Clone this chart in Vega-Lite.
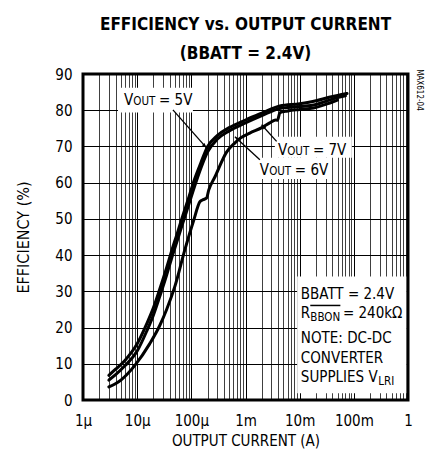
{
  "$schema": "https://vega.github.io/schema/vega-lite/v6.json",
  "width": 325,
  "height": 326,
  "autosize": {"type": "none"},
  "padding": {"left": 83, "top": 74, "right": 18, "bottom": 58},
  "background": "white",
  "title": {
    "text": ["EFFICIENCY vs. OUTPUT CURRENT", "(BBATT = 2.4V)"],
    "fontSize": 17,
    "fontWeight": "bold",
    "font": "DejaVu Sans Condensed",
    "lineHeight": 29,
    "anchor": "middle",
    "offset": 4,
    "color": "black"
  },
  "config": {
    "font": "DejaVu Sans Condensed",
    "view": {"stroke": "black", "strokeWidth": 3},
    "axis": {
      "labelColor": "black",
      "titleColor": "black",
      "titleFontWeight": "normal",
      "labelFontSize": 15,
      "titleFontSize": 15,
      "ticks": false,
      "domain": false,
      "grid": true,
      "gridColor": "black",
      "gridWidth": 1,
      "labelOverlap": false,
      "labelFlush": false,
      "labelBound": false
    }
  },
  "datasets": {
    "curves": [
      {"s": "5V", "x": 3e-6, "y": 6.8}, {"s": "5V", "x": 4e-6, "y": 8.5}, {"s": "5V", "x": 6e-6, "y": 11}, {"s": "5V", "x": 1e-5, "y": 15.5}, {"s": "5V", "x": 1.5e-5, "y": 21}, {"s": "5V", "x": 2e-5, "y": 25.5}, {"s": "5V", "x": 2.6e-5, "y": 30.5}, {"s": "5V", "x": 3.5e-5, "y": 36.5}, {"s": "5V", "x": 4.3e-5, "y": 41}, {"s": "5V", "x": 5.5e-5, "y": 46}, {"s": "5V", "x": 7e-5, "y": 51}, {"s": "5V", "x": 9e-5, "y": 56}, {"s": "5V", "x": 1.15e-4, "y": 61}, {"s": "5V", "x": 1.5e-4, "y": 65.5}, {"s": "5V", "x": 2e-4, "y": 70}, {"s": "5V", "x": 3e-4, "y": 73}, {"s": "5V", "x": 5e-4, "y": 75.2}, {"s": "5V", "x": 1e-3, "y": 77.3}, {"s": "5V", "x": 2e-3, "y": 79.2}, {"s": "5V", "x": 4.3e-3, "y": 81.2}, {"s": "5V", "x": 1e-2, "y": 81.8}, {"s": "5V", "x": 2e-2, "y": 82.6}, {"s": "5V", "x": 3.5e-2, "y": 83.6}, {"s": "5V", "x": 5e-2, "y": 84.1}, {"s": "5V", "x": 7.5e-2, "y": 84.6},
      {"s": "7V", "x": 3e-6, "y": 5.5}, {"s": "7V", "x": 4e-6, "y": 7}, {"s": "7V", "x": 6e-6, "y": 9.5}, {"s": "7V", "x": 1e-5, "y": 13.5}, {"s": "7V", "x": 1.5e-5, "y": 19}, {"s": "7V", "x": 2e-5, "y": 23.5}, {"s": "7V", "x": 2.6e-5, "y": 28.5}, {"s": "7V", "x": 3.5e-5, "y": 34.5}, {"s": "7V", "x": 4.3e-5, "y": 39}, {"s": "7V", "x": 5.5e-5, "y": 44}, {"s": "7V", "x": 7e-5, "y": 49}, {"s": "7V", "x": 9e-5, "y": 54}, {"s": "7V", "x": 1.15e-4, "y": 59}, {"s": "7V", "x": 1.5e-4, "y": 64}, {"s": "7V", "x": 2e-4, "y": 68.5}, {"s": "7V", "x": 3e-4, "y": 72}, {"s": "7V", "x": 5e-4, "y": 74.3}, {"s": "7V", "x": 1e-3, "y": 76.5}, {"s": "7V", "x": 2e-3, "y": 78.5}, {"s": "7V", "x": 4.3e-3, "y": 80.5}, {"s": "7V", "x": 1e-2, "y": 81}, {"s": "7V", "x": 2e-2, "y": 81.6}, {"s": "7V", "x": 3.5e-2, "y": 82.8}, {"s": "7V", "x": 5e-2, "y": 83.5}, {"s": "7V", "x": 7e-2, "y": 84},
      {"s": "6V", "x": 3e-6, "y": 3.6}, {"s": "6V", "x": 5e-6, "y": 5.5}, {"s": "6V", "x": 9e-6, "y": 9.5}, {"s": "6V", "x": 1.7e-5, "y": 15.5}, {"s": "6V", "x": 2.6e-5, "y": 20.5}, {"s": "6V", "x": 3.5e-5, "y": 25}, {"s": "6V", "x": 5e-5, "y": 31.5}, {"s": "6V", "x": 7.6e-5, "y": 41.5}, {"s": "6V", "x": 1.1e-4, "y": 49.5}, {"s": "6V", "x": 1.45e-4, "y": 54.8}, {"s": "6V", "x": 1.65e-4, "y": 55.3}, {"s": "6V", "x": 1.9e-4, "y": 55.7}, {"s": "6V", "x": 2.1e-4, "y": 58}, {"s": "6V", "x": 2.75e-4, "y": 61.7}, {"s": "6V", "x": 4.5e-4, "y": 68.5}, {"s": "6V", "x": 6.4e-4, "y": 71}, {"s": "6V", "x": 8e-4, "y": 72.3}, {"s": "6V", "x": 1.2e-3, "y": 73.7}, {"s": "6V", "x": 2e-3, "y": 75.2}, {"s": "6V", "x": 2.8e-3, "y": 76.5}, {"s": "6V", "x": 3.6e-3, "y": 77.3}, {"s": "6V", "x": 3.9e-3, "y": 77.2}, {"s": "6V", "x": 4.3e-3, "y": 79.3}, {"s": "6V", "x": 6e-3, "y": 79.8}, {"s": "6V", "x": 1e-2, "y": 80.2}, {"s": "6V", "x": 1.8e-2, "y": 80.6}, {"s": "6V", "x": 3.6e-2, "y": 82}, {"s": "6V", "x": 5e-2, "y": 82.8}
    ],
    "boxes": [
      {"b": "5V", "x": 4.43e-6, "x2": 1.07e-4, "y": 79.4, "y2": 86.2},
      {"b": "7V", "x": 3.48e-3, "x2": 0.0918, "y": 66.9, "y2": 72.7},
      {"b": "6V", "x": 1.62e-3, "x2": 0.036, "y": 61.0, "y2": 66.9},
      {"b": "note", "x": 9.0e-3, "x2": 0.93, "y": 1.85, "y2": 34.1}
    ],
    "arrows": [
      {"a": "5V", "x": 4.57e-5, "y": 80.1, "x2": 1.91e-4, "y2": 69.6},
      {"a": "7V", "x": 3.75e-3, "y": 71.4, "x2": 1.98e-3, "y2": 76.0},
      {"a": "6V", "x": 1.84e-3, "y": 66.3, "x2": 6.37e-4, "y2": 72.7}
    ],
    "vlabels": [
      {"x": 5.71e-6, "y": 81.5, "main": "V", "sub": "OUT", "rest": "= 5V"},
      {"x": 3.96e-3, "y": 67.7, "main": "V", "sub": "OUT", "rest": "= 7V"},
      {"x": 1.84e-3, "y": 62.2, "main": "V", "sub": "OUT", "rest": "= 6V"}
    ],
    "notes": [
      {"t": "BBATT = 2.4V", "x": 0.0105, "y": 27.8},
      {"t": "R", "x": 0.0105, "y": 22.6},
      {"t": "= 240kΩ", "x": 0.0628, "y": 22.6},
      {"t": "NOTE: DC-DC", "x": 0.0105, "y": 15.8},
      {"t": "CONVERTER", "x": 0.0105, "y": 10.3},
      {"t": "SUPPLIES V", "x": 0.0105, "y": 5.05}
    ],
    "notesubs": [
      {"t": "BBON", "x": 0.0157, "y": 21.9},
      {"t": "LRI", "x": 0.283, "y": 4.1}
    ],
    "overline": [
      {"x": 0.0157, "x2": 0.0564, "y": 26.1}
    ],
    "code": [
      {"t": "MAX612-04", "x": 1.58, "y": 85.6}
    ]
  },
  "encoding": {
    "x": {
      "field": "x",
      "type": "quantitative",
      "scale": {"type": "log", "domain": [1e-6, 1], "nice": false},
      "axis": {
        "title": "OUTPUT CURRENT (A)",
        "values": [1e-6, 2e-6, 3e-6, 4e-6, 5e-6, 6e-6, 7e-6, 8e-6, 9e-6, 1e-5, 2e-5, 3e-5, 4e-5, 5e-5, 6e-5, 7e-5, 8e-5, 9e-5, 1e-4, 2e-4, 3e-4, 4e-4, 5e-4, 6e-4, 7e-4, 8e-4, 9e-4, 1e-3, 2e-3, 3e-3, 4e-3, 5e-3, 6e-3, 7e-3, 8e-3, 9e-3, 1e-2, 2e-2, 3e-2, 4e-2, 5e-2, 6e-2, 7e-2, 8e-2, 9e-2, 0.1, 0.2, 0.3, 0.4, 0.5, 0.6, 0.7, 0.8, 0.9, 1],
        "labelExpr": "abs(log(datum.value)/LN10 - round(log(datum.value)/LN10)) < 0.01 ? ['1µ','10µ','100µ','1m','10m','100m','1'][round(log(datum.value)/LN10)+6] : ''",
        "labelPadding": 13,
        "titlePadding": 5,
        "gridOpacity": {"condition": {"test": "abs(log(datum.value)/LN10 - round(log(datum.value)/LN10)) < 0.01", "value": 1}, "value": 0.75}
      }
    },
    "y": {
      "field": "y",
      "type": "quantitative",
      "scale": {"domain": [0, 90], "nice": false},
      "axis": {
        "title": "EFFICIENCY (%)",
        "titleFontSize": 16,
        "values": [0, 10, 20, 30, 40, 50, 60, 70, 80, 90],
        "labelPadding": 11,
        "titlePadding": 23
      }
    }
  },
  "layer": [
    {
      "data": {"name": "boxes"},
      "mark": {"type": "rect", "fill": "white", "stroke": null},
      "encoding": {"x2": {"field": "x2"}, "y2": {"field": "y2"}}
    },
    {
      "data": {"name": "curves"},
      "mark": {"type": "line", "color": "black", "interpolate": "monotone", "strokeCap": "round", "strokeJoin": "round"},
      "encoding": {
        "detail": {"field": "s"},
        "strokeWidth": {"field": "s", "type": "nominal", "scale": {"domain": ["5V", "7V", "6V"], "range": [3, 3, 2.5]}, "legend": null}
      }
    },
    {
      "data": {"name": "arrows"},
      "mark": {"type": "rule", "color": "black", "strokeWidth": 1.3},
      "encoding": {"x2": {"field": "x2"}, "y2": {"field": "y2"}}
    },
    {
      "data": {"name": "arrows"},
      "transform": [{"filter": "datum.a == '5V'"}],
      "mark": {"type": "point", "shape": "M0,0L-0.35,1L0.35,1Z", "filled": true, "color": "black", "opacity": 1, "size": 100, "angle": 138},
      "encoding": {"x": {"field": "x2", "type": "quantitative"}, "y": {"field": "y2", "type": "quantitative"}}
    },
    {
      "data": {"name": "arrows"},
      "transform": [{"filter": "datum.a == '7V'"}],
      "mark": {"type": "point", "shape": "M0,0L-0.35,1L0.35,1Z", "filled": true, "color": "black", "opacity": 1, "size": 100, "angle": 318},
      "encoding": {"x": {"field": "x2", "type": "quantitative"}, "y": {"field": "y2", "type": "quantitative"}}
    },
    {
      "data": {"name": "arrows"},
      "transform": [{"filter": "datum.a == '6V'"}],
      "mark": {"type": "point", "shape": "M0,0L-0.35,1L0.35,1Z", "filled": true, "color": "black", "opacity": 1, "size": 100, "angle": 313},
      "encoding": {"x": {"field": "x2", "type": "quantitative"}, "y": {"field": "y2", "type": "quantitative"}}
    },
    {
      "data": {"name": "vlabels"},
      "mark": {"type": "text", "align": "left", "baseline": "alphabetic", "fontSize": 15, "color": "black"},
      "encoding": {"text": {"field": "main"}}
    },
    {
      "data": {"name": "vlabels"},
      "mark": {"type": "text", "align": "left", "baseline": "alphabetic", "fontSize": 11.5, "dx": 9.3, "color": "black"},
      "encoding": {"text": {"field": "sub"}}
    },
    {
      "data": {"name": "vlabels"},
      "mark": {"type": "text", "align": "left", "baseline": "alphabetic", "fontSize": 15, "dx": 35, "color": "black"},
      "encoding": {"text": {"field": "rest"}}
    },
    {
      "data": {"name": "notes"},
      "mark": {"type": "text", "align": "left", "baseline": "alphabetic", "fontSize": 15, "color": "black"},
      "encoding": {"text": {"field": "t"}}
    },
    {
      "data": {"name": "notesubs"},
      "mark": {"type": "text", "align": "left", "baseline": "alphabetic", "fontSize": 11.5, "color": "black"},
      "encoding": {"text": {"field": "t"}}
    },
    {
      "data": {"name": "overline"},
      "mark": {"type": "rule", "color": "black", "strokeWidth": 1.5},
      "encoding": {"x2": {"field": "x2"}, "y": {"field": "y", "type": "quantitative"}}
    },
    {
      "data": {"name": "code"},
      "mark": {"type": "text", "align": "center", "baseline": "middle", "fontSize": 8, "angle": 90, "color": "black"},
      "encoding": {"text": {"field": "t"}}
    }
  ]
}
